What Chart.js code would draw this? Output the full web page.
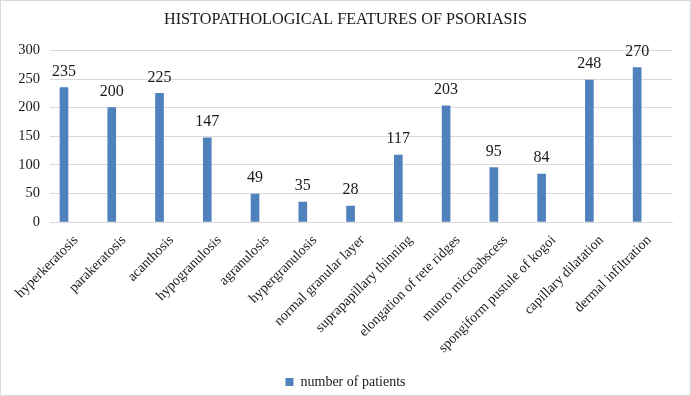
<!DOCTYPE html>
<html>
<head>
<meta charset="utf-8">
<script src="https://cdn.jsdelivr.net/npm/chart.js@4/dist/chart.umd.min.js"></script>
<style>
html,body{margin:0;padding:0;background:#fff;}
#wrap{position:relative;width:691px;height:396px;box-sizing:border-box;border:1px solid #d9d9d9;overflow:hidden;}
canvas{display:block;}
</style>
</head>
<body>
<div id="wrap"><canvas id="c" width="689" height="394"></canvas></div>
<script>
const categories = ["hyperkeratosis","parakeratosis","acanthosis","hypogranulosis","agranulosis","hypergranulosis","normal granular layer","suprapapillary thinning","elongation of rete ridges","munro microabscess","spongiform pustule of kogoi","capillary dilatation","dermal infiltration"];
const patients = [235,200,225,147,49,35,28,117,203,95,84,248,270];
const yTicks = [0,50,100,150,200,250,300];
const seriesName = "number of patients";

const FONT = '"Liberation Serif", "Times New Roman", serif';
const TXT = '#1a1a1a';
const BLUE = '#4F81BD';

const valueLabels = {
  id: 'valueLabels',
  afterDatasetsDraw(chart) {
    const ctx = chart.ctx;
    const meta = chart.getDatasetMeta(0);
    ctx.save();
    ctx.font = '16px ' + FONT;
    ctx.fillStyle = TXT;
    ctx.textAlign = 'center';
    ctx.textBaseline = 'bottom';
    meta.data.forEach((bar, i) => {
      ctx.fillText(String(patients[i]), bar.x, bar.y - 8);
    });
    ctx.restore();
  }
};

new Chart(document.getElementById('c'), {
  type: 'bar',
  data: {
    datasets: [{
      label: seriesName,
      data: patients.map((v, i) => ({x: i, y: v})),
      backgroundColor: BLUE,
      barThickness: 8
    }]
  },
  options: {
    responsive: false,
    animation: false,
    layout: {padding: {left: 18, right: 18, top: 0, bottom: -4}},
    plugins: {
      title: {
        display: true,
        text: 'HISTOPATHOLOGICAL FEATURES OF PSORIASIS',
        color: TXT,
        font: {family: FONT, size: 16.2, weight: 'normal'},
        padding: {top: 9, bottom: 21}
      },
      legend: {
        display: true,
        position: 'bottom',
        labels: {
          color: TXT,
          font: {family: FONT, size: 14},
          boxWidth: 8,
          boxHeight: 8,
          padding: 2
        }
      },
      tooltip: {enabled: false}
    },
    scales: {
      x: {
        type: 'linear',
        offset: false,
        min: -0.293,
        max: 12.73,
        afterBuildTicks: (s) => { s.ticks = categories.map((_, i) => ({value: i})); },
        afterFit: (s) => { s.height = 151; },
        grid: {display: false},
        border: {display: true, color: '#d9d9d9'},
        ticks: {
          autoSkip: false,
          minRotation: 45,
          maxRotation: 45,
          labelOffset: 12,
          padding: 2,
          color: TXT,
          font: {family: FONT, size: 14},
          callback: (v) => categories[v]
        }
      },
      y: {
        min: 0,
        max: 300,
        afterBuildTicks: (s) => { s.ticks = yTicks.map(v => ({value: v})); },
        afterFit: (s) => { s.width = 31; },
        grid: {color: '#d9d9d9', drawTicks: false},
        border: {display: false},
        ticks: {
          padding: 10,
          color: TXT,
          font: {family: FONT, size: 14.5}
        }
      }
    }
  },
  plugins: [valueLabels]
});
</script>
</body>
</html>
